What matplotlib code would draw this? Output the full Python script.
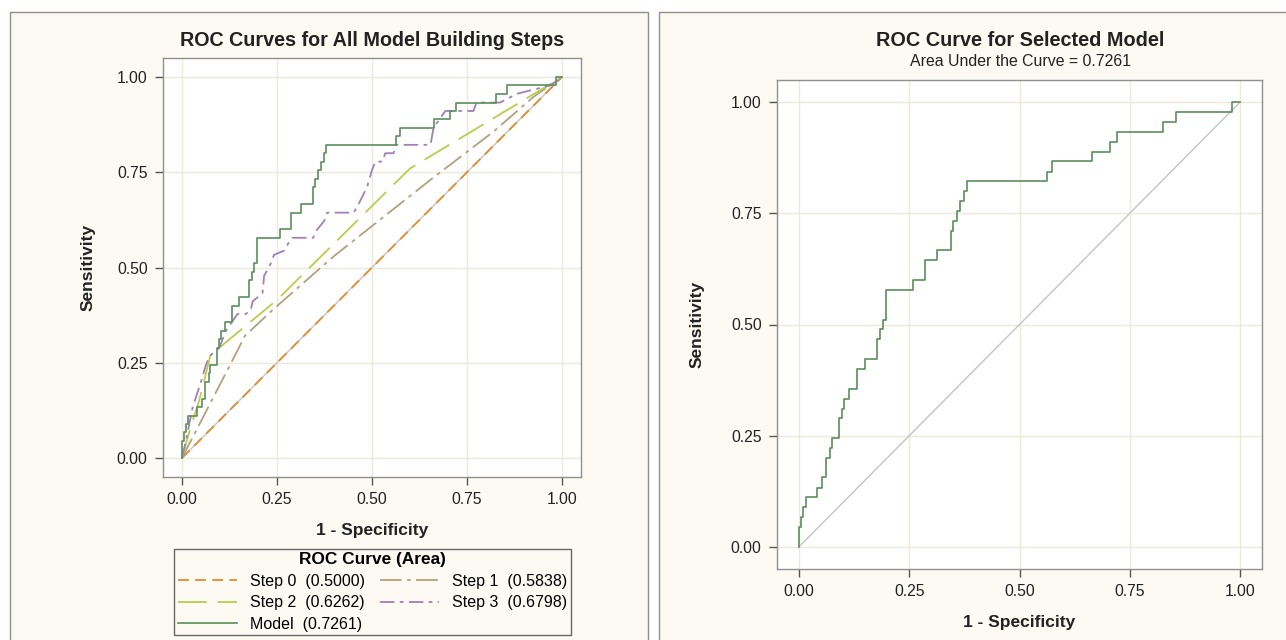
import matplotlib
matplotlib.use("Agg")
import matplotlib.pyplot as plt
from matplotlib.patches import Rectangle

plt.rcParams['font.family'] = ['Liberation Sans', 'DejaVu Sans']

# ---------------- data ----------------
step0_fpr = [0.0, 1.0]
step0_tpr = [0.0, 1.0]

step1_fpr = [0.0, 0.145, 0.165, 0.24, 0.40, 0.66, 0.82, 0.925, 1.0]
step1_tpr = [0.0, 0.28, 0.32, 0.39, 0.53, 0.735, 0.857, 0.948, 1.0]

step2_fpr = [0.0, 0.024, 0.045, 0.075, 0.25, 0.60, 1.0]
step2_tpr = [0.0, 0.085, 0.15, 0.27, 0.415, 0.76, 1.0]

step3_fpr = [0.0, 0.010, 0.028, 0.050, 0.063, 0.072, 0.098, 0.115, 0.146, 0.168,
             0.181, 0.186, 0.212, 0.216, 0.234, 0.242, 0.268, 0.282, 0.290, 0.345,
             0.356, 0.374, 0.382, 0.452, 0.465, 0.487, 0.500, 0.509, 0.527, 0.535,
             0.557, 0.562, 0.654, 0.662, 0.693, 0.767, 0.775, 0.837, 0.881, 0.969, 1.0]
step3_tpr = [0.0, 0.044, 0.133, 0.200, 0.244, 0.267, 0.289, 0.333, 0.378, 0.378,
             0.389, 0.411, 0.433, 0.478, 0.511, 0.533, 0.544, 0.567, 0.578, 0.578,
             0.600, 0.622, 0.644, 0.644, 0.667, 0.711, 0.756, 0.778, 0.778, 0.800,
             0.800, 0.822, 0.822, 0.867, 0.911, 0.911, 0.933, 0.933, 0.956, 0.978, 1.0]

model_fpr = [0.000, 0.000, 0.005, 0.005, 0.010, 0.010, 0.016, 0.016, 0.040, 0.040,
             0.053, 0.053, 0.060, 0.060, 0.070, 0.070, 0.074, 0.074, 0.091, 0.091,
             0.097, 0.097, 0.103, 0.103, 0.113, 0.113, 0.132, 0.132, 0.150, 0.150,
             0.176, 0.176, 0.184, 0.184, 0.190, 0.190, 0.197, 0.197, 0.259, 0.259,
             0.286, 0.286, 0.312, 0.312, 0.344, 0.344, 0.350, 0.350, 0.358, 0.358,
             0.365, 0.365, 0.373, 0.373, 0.380, 0.380, 0.562, 0.562, 0.573, 0.573,
             0.664, 0.664, 0.705, 0.705, 0.720, 0.720, 0.825, 0.825, 0.855, 0.855,
             0.983, 0.983, 1.000]
model_tpr = [0.000, 0.044, 0.044, 0.067, 0.067, 0.089, 0.089, 0.111, 0.111, 0.133,
             0.133, 0.156, 0.156, 0.200, 0.200, 0.222, 0.222, 0.244, 0.244, 0.289,
             0.289, 0.311, 0.311, 0.333, 0.333, 0.356, 0.356, 0.400, 0.400, 0.422,
             0.422, 0.467, 0.467, 0.489, 0.489, 0.511, 0.511, 0.578, 0.578, 0.600,
             0.600, 0.644, 0.644, 0.667, 0.667, 0.711, 0.711, 0.733, 0.733, 0.756,
             0.756, 0.778, 0.778, 0.800, 0.800, 0.822, 0.822, 0.844, 0.844, 0.867,
             0.867, 0.889, 0.889, 0.911, 0.911, 0.933, 0.933, 0.956, 0.956, 0.978,
             0.978, 1.000, 1.000]

step_labels = ["Step 0  (0.5000)", "Step 1  (0.5838)", "Step 2  (0.6262)",
               "Step 3  (0.6798)", "Model  (0.7261)"]
ticks = [0.0, 0.25, 0.5, 0.75, 1.0]
tick_labels = ["0.00", "0.25", "0.50", "0.75", "1.00"]
auc_text = "Area Under the Curve = 0.7261"

# ---------------- style ----------------
W, H = 1286, 640
BG = '#FCFAF3'
BORDER = '#8F8F8F'
GRID = '#EDEADB'
REF = '#C4C4C4'
C_MODEL = '#5B8F5B'
C_S0 = '#E38B2C'
C_S1 = '#B4A07E'
C_S2 = '#B7CE4C'
C_S3 = '#A27FB8'
TXT = '#222222'

fig = plt.figure(figsize=(W / 100, H / 100), dpi=100, facecolor='white')


def px_rect(x0, y0, x1, y1):
    return [x0 / W, 1 - y1 / H, (x1 - x0) / W, (y1 - y0) / H]


# panel backgrounds
for (x0, y0, x1, y1) in [(10, 12, 648, 700), (659, 12, 1300, 700)]:
    fig.patches.append(Rectangle((x0 / W, 1 - y1 / H), (x1 - x0) / W, (y1 - y0) / H,
                                 transform=fig.transFigure, facecolor=BG,
                                 edgecolor=BORDER, linewidth=1.0, zorder=-10))


def style_axes(ax, xlab_y, ylab_x):
    ax.set_zorder(1)
    ax.set_xlim(-0.05, 1.05)
    ax.set_ylim(-0.05, 1.05)
    ax.set_facecolor('white')
    ax.set_xticks(ticks)
    ax.set_xticklabels(tick_labels)
    ax.set_yticks(ticks)
    ax.set_yticklabels(tick_labels)
    ax.tick_params(axis='both', labelsize=11.3, length=6, width=1.0,
                   color='#555555', labelcolor=TXT, pad=5)
    ax.grid(True, color=GRID, linewidth=1.0)
    ax.set_axisbelow(True)
    for s in ax.spines.values():
        s.set_color(BORDER)
        s.set_linewidth(1.0)
    ax.plot([0, 1], [0, 1], color=REF, linewidth=1.0, zorder=1)
    ax.set_xlabel("1 - Specificity", fontsize=12.5, fontweight='bold', color=TXT)
    ax.set_ylabel("Sensitivity", fontsize=12.5, fontweight='bold', color=TXT)
    ax.xaxis.label.set_va('center')
    ax.yaxis.label.set_va('center')
    ax.xaxis.set_label_coords(0.5, xlab_y)
    ax.yaxis.set_label_coords(ylab_x, 0.5)


# ---------------- left panel ----------------
axL = fig.add_axes(px_rect(163, 58, 581, 477))
style_axes(axL, (477 - 531) / 419, (88 - 163) / 418)
axL.plot(step0_fpr, step0_tpr, color=C_S0, linewidth=1.3, dashes=(6, 3.5), zorder=3,
         label=step_labels[0])
axL.plot(step1_fpr, step1_tpr, color=C_S1, linewidth=1.3, dashes=(12, 3, 2, 3), zorder=3,
         label=step_labels[1])
axL.plot(step2_fpr, step2_tpr, color=C_S2, linewidth=1.3, dashes=(16, 6), zorder=3,
         label=step_labels[2])
axL.plot(step3_fpr, step3_tpr, color=C_S3, linewidth=1.3, dashes=(8, 3, 2, 3), zorder=3,
         label=step_labels[3])
axL.plot(model_fpr, model_tpr, color=C_MODEL, linewidth=1.2, zorder=4,
         label=step_labels[4])
fig.text(372 / W, 1 - 40 / H, "ROC Curves for All Model Building Steps",
         ha='center', va='center', fontsize=14.2, fontweight='bold', color=TXT)

handles, labels = axL.get_legend_handles_labels()
order = [0, 2, 4, 1, 3]
leg = fig.legend([handles[i] for i in order], [labels[i] for i in order],
                 loc='center', bbox_to_anchor=(372.5 / W, 1 - 592 / H),
                 ncol=2, fontsize=11.5, title="ROC Curve (Area)",
                 title_fontproperties={'size': 12.4, 'weight': 'bold'},
                 frameon=True, fancybox=False, edgecolor='#666666',
                 facecolor=BG, framealpha=1.0, handlelength=3.75,
                 columnspacing=0.9, borderpad=0.2, labelspacing=0.4,
                 handletextpad=0.8)
leg.get_frame().set_linewidth(1.0)

# ---------------- right panel ----------------
axR = fig.add_axes(px_rect(777, 80, 1262, 569))
style_axes(axR, (569 - 622) / 489, (697 - 777) / 485)
axR.plot(model_fpr, model_tpr, color=C_MODEL, linewidth=1.2, zorder=4)
fig.text(1020 / W, 1 - 40 / H, "ROC Curve for Selected Model",
         ha='center', va='center', fontsize=14.3, fontweight='bold', color=TXT)
fig.text(1020 / W, 1 - 61 / H, auc_text,
         ha='center', va='center', fontsize=11.4, color=TXT)

fig.savefig("out.png", dpi=100, facecolor='white')
